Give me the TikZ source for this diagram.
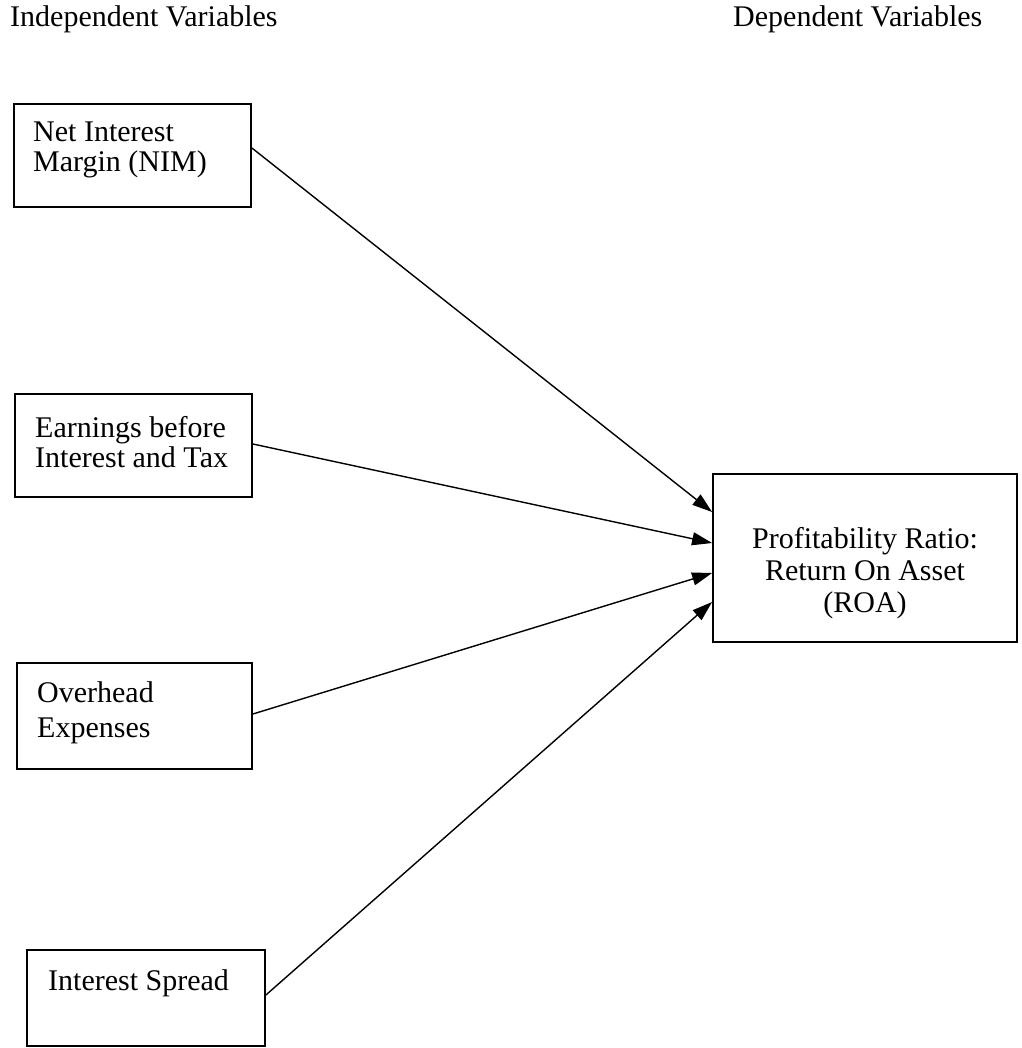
\documentclass[tikz,border=0pt]{standalone}
\usepackage{fontspec}
\setmainfont{Liberation Serif}
\usetikzlibrary{arrows.meta}
\tikzset{
  varbox/.style={draw=black, line width=1.8pt, inner sep=0pt, rectangle},
  boxtext/.style={inner sep=0pt, align=left, anchor=north west},
  rtext/.style={inner sep=0pt, align=center, anchor=north},
  headtext/.style={inner sep=0pt, anchor=base west, font=\fontsize{30}{30}\selectfont},
  link/.style={line width=1.4pt, -{Triangle[length=20pt,width=13pt]}}
}
\begin{document}
\begin{tikzpicture}[x=1pt,y=-1pt]
\useasboundingbox (0,0) rectangle (1021,1048);
% headers
\node[headtext] (hind) at (10,27) {Independent Variables};
\node[headtext] (hdep) at (733,27) {Dependent Variables};
% boxes
\node[varbox, minimum width=237pt, minimum height=103pt] (b1) at (132.5,155.5) {};
\node[varbox, minimum width=237pt, minimum height=103pt] (b2) at (133.5,445.5) {};
\node[varbox, minimum width=235pt, minimum height=106pt] (b3) at (134.5,716) {};
\node[varbox, minimum width=238pt, minimum height=96pt] (b4) at (146,998) {};
\node[varbox, minimum width=304pt, minimum height=168pt] (r) at (865,558) {};
% texts
\node[boxtext, font=\fontsize{30}{30}\selectfont] (t1) at (33,120.7) {\strut Net Interest\\\strut Margin (NIM)};
\node[boxtext, font=\fontsize{30}{30}\selectfont] (t2) at (35,416) {\strut Earnings before\\\strut Interest and Tax};
\node[boxtext, font=\fontsize{30}{35}\selectfont] (t3) at (37,677.5) {\strut Overhead\\\strut Expenses};
\node[boxtext, font=\fontsize{30}{30}\selectfont] (t4) at (48,969) {\strut Interest Spread};
\node[rtext, font=\fontsize{30}{32}\selectfont] (tr) at (865,525.6) {\strut Profitability Ratio:\\\strut Return On Asset\\\strut (ROA)};
% connectors
\draw[link] ([yshift=7.5pt]b1.east) -- ([yshift=46pt]r.west);
\draw[link] ([yshift=1.5pt]b2.east) -- ([yshift=15pt]r.west);
\draw[link] ([yshift=2pt]b3.east) -- ([yshift=-15pt]r.west);
\draw[link] ([yshift=3pt]b4.east) -- ([yshift=-44pt]r.west);
\end{tikzpicture}
\end{document}
